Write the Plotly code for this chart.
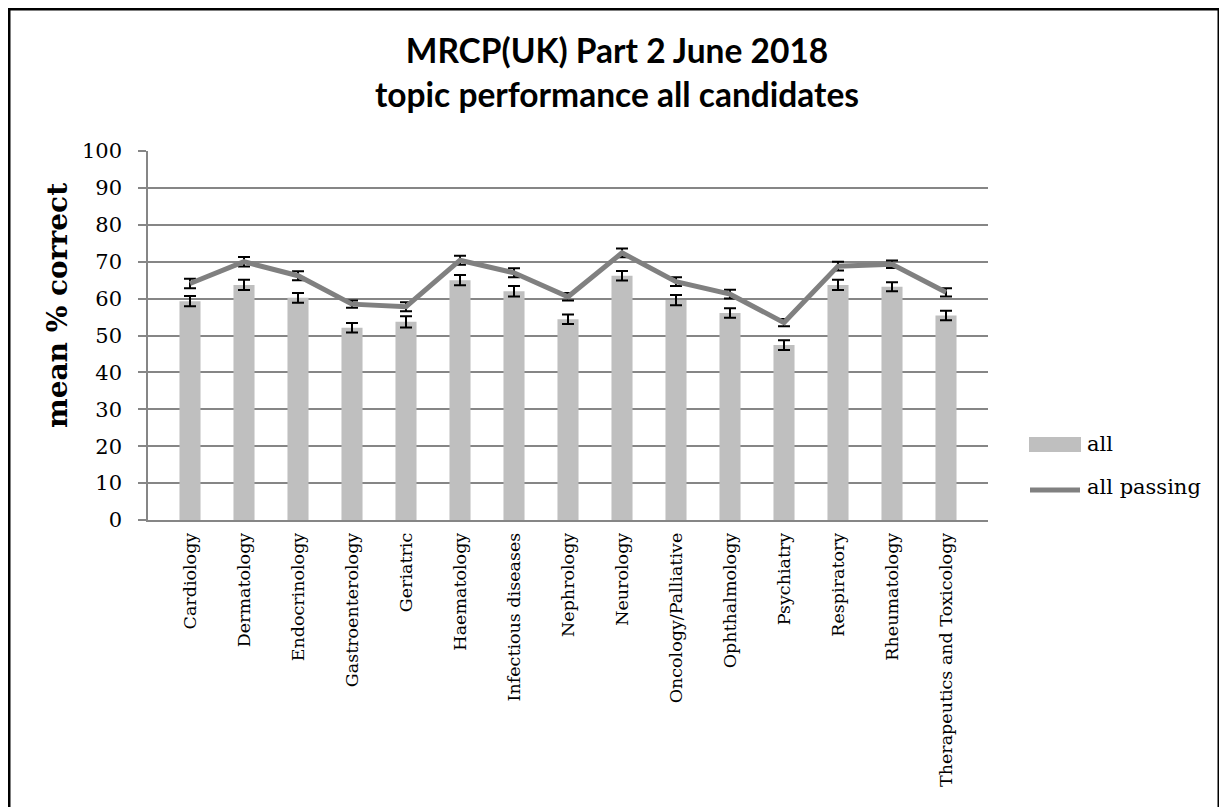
import plotly.graph_objects as go

categories = ["Cardiology", "Dermatology", "Endocrinology", "Gastroenterology", "Geriatric",
              "Haematology", "Infectious diseases", "Nephrology", "Neurology", "Oncology/Palliative",
              "Ophthalmology", "Psychiatry", "Respiratory", "Rheumatology", "Therapeutics and Toxicology"]
all_vals = [59.3, 63.7, 60.2, 52.1, 53.7, 65.0, 62.0, 54.4, 66.2, 59.6, 56.1, 47.4, 63.7, 63.2, 55.4]
all_err = [1.4, 1.4, 1.3, 1.3, 1.5, 1.4, 1.4, 1.3, 1.3, 1.4, 1.3, 1.3, 1.4, 1.2, 1.3]
passing_vals = [64.1, 70.0, 66.2, 58.5, 57.8, 70.4, 67.0, 60.5, 72.4, 64.6, 61.2, 53.5, 68.8, 69.3, 61.7]
passing_err = [1.3, 1.3, 1.2, 1.0, 1.2, 1.2, 1.2, 1.0, 1.2, 1.2, 1.2, 1.0, 1.2, 1.0, 1.1]
y_ticks = [0, 10, 20, 30, 40, 50, 60, 70, 80, 90, 100]

SERIF = "DejaVu Serif"
GRID = "#868686"
BAR_COLOR = "#BFBFBF"
LINE_COLOR = "#808080"

fig = go.Figure()
fig.add_trace(go.Bar(
    x=categories, y=all_vals, name="all", width=0.39,
    marker=dict(color=BAR_COLOR, line=dict(width=0)),
    error_y=dict(type="data", array=all_err, color="black", thickness=2, width=6),
    showlegend=False,
))
fig.add_trace(go.Scatter(
    x=categories, y=passing_vals, name="all passing", mode="lines",
    line=dict(color=LINE_COLOR, width=5),
    error_y=dict(type="data", array=passing_err, color="black", thickness=2, width=6),
    showlegend=False,
))

# page offset (default body margin)
OFF = 8
W, H = 1227 - OFF, 807 - OFF
# plot area in screen pixels
L, R, T, B = 148, 988, 151, 520
Lf, Rf, Tf, Bf = L - OFF, R - OFF, T - OFF, B - OFF
pw, ph = R - L, B - T

def px_x(x):
    return (x - L) / pw

def px_y(y):
    return (B - y) / ph

annotations = [
    dict(text="<b>MRCP(UK) Part 2 June 2018</b><br><b>topic performance all candidates</b>",
         x=px_x(617), y=px_y(72), xref="paper", yref="paper",
         showarrow=False, font=dict(family="Lato", size=33.5, color="black"),
         xanchor="center", yanchor="middle", align="center"),
    dict(text="<b>mean % correct</b>", x=px_x(57), y=px_y(306), xref="paper", yref="paper",
         showarrow=False, textangle=-90, font=dict(family=SERIF, size=28, color="black"),
         xanchor="center", yanchor="middle"),
    dict(text="all", x=px_x(1085), y=px_y(444), xref="paper", yref="paper",
         showarrow=False, font=dict(family=SERIF, size=21, color="black"),
         xanchor="left", yanchor="middle"),
    dict(text="all passing", x=px_x(1085), y=px_y(487), xref="paper", yref="paper",
         showarrow=False, font=dict(family=SERIF, size=21, color="black"),
         xanchor="left", yanchor="middle"),
]

shapes = [
    dict(type="rect", xref="paper", yref="paper",
         x0=px_x(9), x1=px_x(1219), y0=px_y(9), y1=px_y(840),
         line=dict(color="black", width=3), fillcolor="rgba(0,0,0,0)", layer="above"),
    dict(type="rect", xref="paper", yref="paper",
         x0=px_x(1029), x1=px_x(1081), y0=px_y(452), y1=px_y(437),
         line=dict(width=0), fillcolor=BAR_COLOR),
    dict(type="line", xref="paper", yref="paper",
         x0=px_x(1030), x1=px_x(1080), y0=px_y(490), y1=px_y(490),
         line=dict(color=LINE_COLOR, width=5)),
]

fig.update_layout(
    width=W, height=H, autosize=False,
    margin=dict(l=Lf, r=W - Rf, t=Tf, b=H - Bf, pad=0),
    paper_bgcolor="white", plot_bgcolor="white",
    showlegend=False,
    bargap=0.6,
    font=dict(family=SERIF, color="black"),
    annotations=annotations,
    shapes=shapes,
)

fig.update_xaxes(
    type="category", tickangle=-90, showgrid=False, showline=True, linecolor=GRID, linewidth=1.5,
    ticks="", tickfont=dict(family=SERIF, size=17.5, color="black"), ticklabelstandoff=4,
)
fig.update_yaxes(
    range=[0, 100], tickvals=y_ticks, showgrid=True, gridcolor=GRID, gridwidth=1.5,
    showline=True, linecolor=GRID, linewidth=1.5, ticks="outside", ticklen=8, tickcolor=GRID, tickwidth=1.5,
    tickfont=dict(family=SERIF, size=21, color="black"), zeroline=False, ticklabelstandoff=12,
)

fig.write_html("out.html")
